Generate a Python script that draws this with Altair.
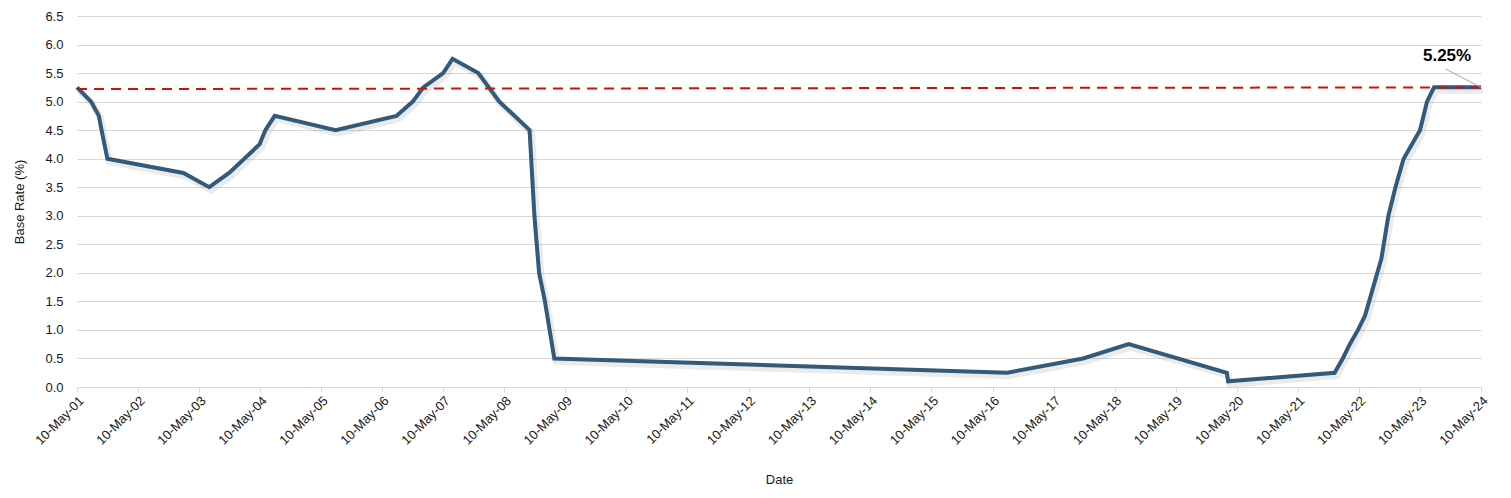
import altair as alt
import pandas as pd

dates = [
    "2001-05-10", "2001-08-02", "2001-09-18", "2001-10-04", "2001-11-08",
    "2003-02-06", "2003-07-10", "2003-11-06", "2004-02-05", "2004-05-06",
    "2004-06-10", "2004-08-05", "2005-08-04", "2006-08-03", "2006-11-09",
    "2007-01-11", "2007-05-10", "2007-07-05", "2007-12-06", "2008-02-07",
    "2008-04-10", "2008-10-08", "2008-11-06", "2008-12-04", "2009-01-08",
    "2009-02-05", "2009-03-05", "2016-08-04", "2017-11-02", "2018-08-02",
    "2020-03-11", "2020-03-19", "2021-12-16", "2022-02-03", "2022-03-17",
    "2022-05-05", "2022-06-16", "2022-08-04", "2022-09-22", "2022-11-03",
    "2022-12-15", "2023-02-02", "2023-03-23", "2023-05-11", "2023-06-22",
    "2023-08-03", "2024-05-10",
]
rates = [
    5.25, 5.00, 4.75, 4.50, 4.00,
    3.75, 3.50, 3.75, 4.00, 4.25,
    4.50, 4.75, 4.50, 4.75, 5.00,
    5.25, 5.50, 5.75, 5.50, 5.25,
    5.00, 4.50, 3.00, 2.00, 1.50,
    1.00, 0.50, 0.25, 0.50, 0.75,
    0.25, 0.10, 0.25, 0.50, 0.75,
    1.00, 1.25, 1.75, 2.25, 3.00,
    3.50, 4.00, 4.25, 4.50, 5.00,
    5.25, 5.25,
]

ref_dates = ["2001-05-10", "2024-05-10"]
ref_values = [5.22, 5.25]

tick_years = list(range(2001, 2025))

label_text = ["5.25%"]
label_date = ["2023-10-20"]
label_value = [5.80]
leader_dates = ["2023-10-12", "2024-05-10"]
leader_values = [5.57, 5.25]

df = pd.DataFrame({"date": pd.to_datetime(dates), "rate": rates})
df_ref = pd.DataFrame({"date": pd.to_datetime(ref_dates), "rate": ref_values})
df_lab = pd.DataFrame({"date": pd.to_datetime(label_date), "rate": label_value, "text": label_text})
df_lead = pd.DataFrame({"date": pd.to_datetime(leader_dates), "rate": leader_values})

tick_vals = [alt.DateTime(year=y, month=5, date=10) for y in tick_years]

xscale = alt.Scale(domain=[alt.DateTime(year=2001, month=5, date=10),
                           alt.DateTime(year=2024, month=5, date=10)], nice=False)
yscale = alt.Scale(domain=[0, 6.5], nice=False)

x_enc = alt.X("date:T", scale=xscale, title="Date",
              axis=alt.Axis(values=tick_vals, format="%d-%b-%y", labelAngle=-45,
                            labelAlign="right", labelBaseline="top",
                            grid=False, domainColor="#d9d9d9", tickColor="#d9d9d9",
                            tickSize=5, labelPadding=2, titlePadding=26,
                            labelFontSize=13, titleFontSize=13,
                            labelColor="#1a1a1a", titleColor="#1a1a1a",
                            titleFontWeight="normal"))
y_enc = alt.Y("rate:Q", scale=yscale, title="Base Rate (%)",
              axis=alt.Axis(values=[i * 0.5 for i in range(14)], format=".1f",
                            grid=True, gridColor="#d9d9d9", domain=False, ticks=False,
                            labelPadding=14, titlePadding=18,
                            labelFontSize=13, titleFontSize=13,
                            labelColor="#1a1a1a", titleColor="#1a1a1a",
                            titleFontWeight="normal"))

shadow = alt.Chart(df).mark_line(color="#000000", opacity=0.08, strokeWidth=7,
                                 xOffset=2, yOffset=3).encode(x=x_enc, y=y_enc)
line = alt.Chart(df).mark_line(color="#325a7a", strokeWidth=4).encode(x=x_enc, y=y_enc)
ref = alt.Chart(df_ref).mark_line(color="#d01010", strokeWidth=2,
                                  strokeDash=[10, 7]).encode(x=x_enc, y=y_enc)
lead = alt.Chart(df_lead).mark_line(color="#a6a6a6", strokeWidth=1).encode(x=x_enc, y=y_enc)
lab = alt.Chart(df_lab).mark_text(fontSize=17, fontWeight="bold", color="#000000",
                                  font="Liberation Sans").encode(x=x_enc, y=y_enc, text="text:N")

chart = alt.layer(shadow, line, ref, lead, lab).properties(
    width=1404, height=371,
    padding={"left": 5, "top": 2, "right": 2, "bottom": 0},
).configure(font="Liberation Sans").configure_view(stroke=None)

chart.save("out.html", embed_options={"renderer": "svg", "actions": False})
